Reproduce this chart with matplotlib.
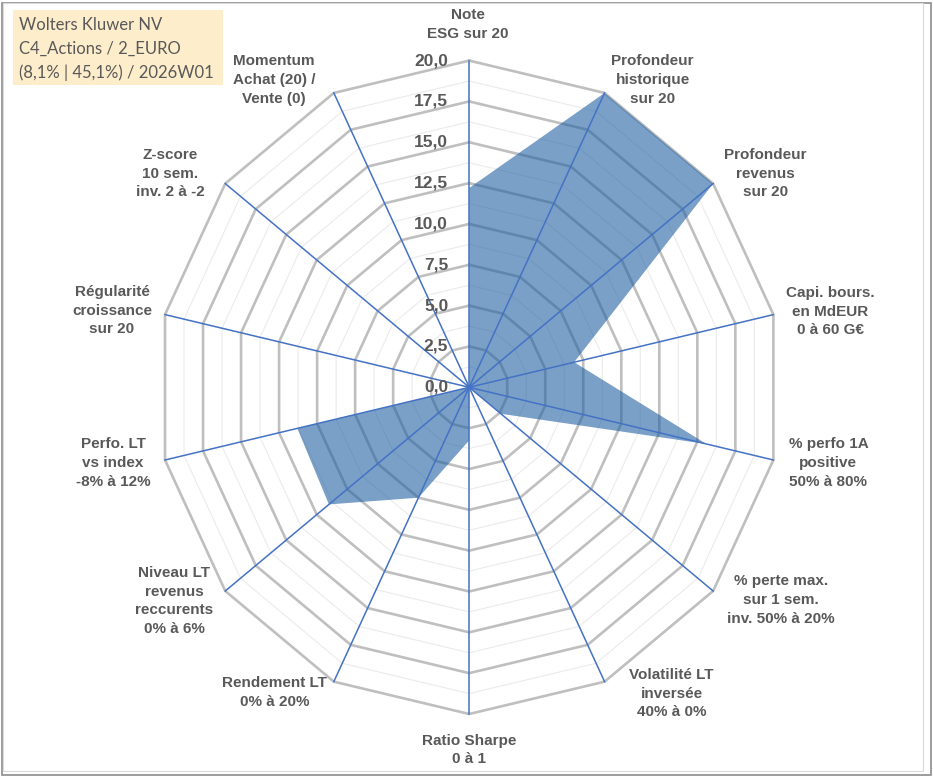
import numpy as np
import matplotlib
matplotlib.use('Agg')
import matplotlib.pyplot as plt
from matplotlib.patches import Rectangle

# Data
categories = ['Note\nESG sur 20',
              'Profondeur\nhistorique\nsur 20',
              'Profondeur\nrevenus\nsur 20',
              'Capi. bours.\nen MdEUR\n0 à 60 G€',
              '% perfo 1A\npositive\n50% à 80%',
              '% perte max.\nsur 1 sem.\ninv. 50% à 20%',
              'Volatilité LT\ninversée\n40% à 0%',
              'Ratio Sharpe\n0 à 1',
              'Rendement LT\n0% à 20%',
              'Niveau LT\nrevenus\nreccurents\n0% à 6%',
              'Perfo. LT\nvs index\n-8% à 12%',
              'Régularité\ncroissance\nsur 20',
              'Z-score\n10 sem.\ninv. 2 à -2',
              'Momentum\nAchat (20) /\nVente (0)']
scores = [12.2, 20, 20, 6.9, 15.6, 2.6, 0, 3.25, 7.5, 11.5, 11.3, 0, 0, 0]
r_ticks = [0, 2.5, 5, 7.5, 10, 12.5, 15, 17.5, 20]
title_lines = ['Wolters Kluwer NV', 'C4_Actions / 2_EURO', '(8,1% | 45,1%) / 2026W01']

# label offsets from the axis end, in pixels
label_offsets = [(-1, 36), (48, 13), (52, 10), (57, 3), (55, -3), (68, -9), (67, -12),
                 (0, -36), (-59, -11), (-51, -10), (-52, -3), (-53, 4), (-55, 10), (-60, 13)]

TXT = '#595959'
n = len(categories)
theta = np.arange(n) * 2 * np.pi / n
theta_c = np.append(theta, theta[0])

W, H = 933, 776
fig = plt.figure(figsize=(W / 100, H / 100), dpi=100)
ax = fig.add_axes([157.2 / W, 62 / H, 624 / W, 653.4 / H], projection='polar')
ax.set_theta_offset(np.pi / 2)
ax.set_theta_direction(-1)
ax.set_aspect('auto')
ax.set_ylim(0, 20)
ax.set_axis_off()

# minor rings
for r in np.arange(1.25, 20, 2.5):
    ax.plot(theta_c, [r] * (n + 1), color='#EBEBEB', lw=0.8, zorder=1, clip_on=False)
# major rings
for r in r_ticks[1:]:
    ax.plot(theta_c, [r] * (n + 1), color='#BFBFBF', lw=1.9, zorder=1, clip_on=False)

ax.fill(theta_c, scores + scores[:1], color='#2161A2', alpha=0.6, lw=0, zorder=2)

for t in theta:
    ax.plot([t, t], [0, 20], color='#4472C4', lw=1.1, zorder=3, clip_on=False)

for r in r_ticks:
    ax.annotate(f'{r:.1f}'.replace('.', ','), xy=(0, r), xytext=(-21, 0),
                textcoords='offset pixels', ha='right', va='center',
                fontsize=12.5, fontweight='bold', color=TXT, family='Liberation Sans',
                annotation_clip=False, zorder=4)

for t, lab, off in zip(theta, categories, label_offsets):
    ax.annotate(lab, xy=(t, 20), xytext=off, textcoords='offset pixels',
                ha='center', va='center', multialignment='center', linespacing=1.42,
                fontsize=11, fontweight='bold', color=TXT, family='Liberation Sans',
                annotation_clip=False)

# title box
fig.add_artist(Rectangle((13 / W, 1 - 85 / H), 210 / W, 75 / H, transform=fig.transFigure,
                         facecolor='#FDEDCB', edgecolor='none', zorder=0))
for i, line in enumerate(title_lines):
    fig.text(19 / W, 1 - (25 + 24 * i) / H, line, ha='left', va='center',
             fontsize=12, color=TXT, family='Lato')

# chart border
fig.add_artist(Rectangle((1.5 / W, 1.5 / H), 929 / W, 772 / H, transform=fig.transFigure,
                         facecolor='none', edgecolor='#8C8C8C', lw=1.2))
fig.add_artist(Rectangle((3 / W, 5 / H), 920 / W, 768 / H, transform=fig.transFigure,
                         facecolor='none', edgecolor='#DADADA', lw=0.8))

fig.savefig('out.png', dpi=100)
